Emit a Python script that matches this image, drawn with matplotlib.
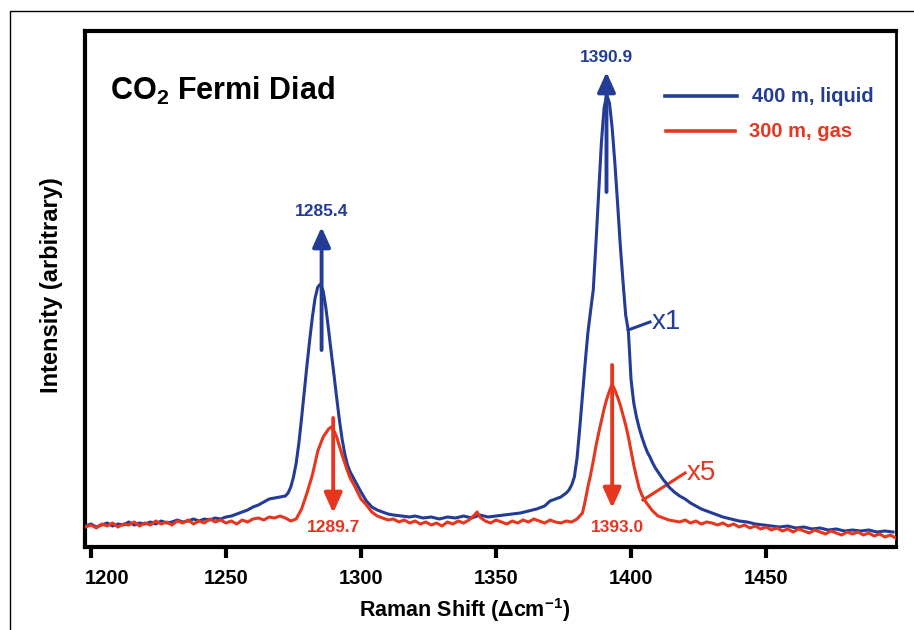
import matplotlib
matplotlib.use("Agg")
import matplotlib.pyplot as plt
from matplotlib.patches import Rectangle
from matplotlib.transforms import ScaledTranslation

plt.rcParams["font.family"] = ["Liberation Sans", "DejaVu Sans"]
plt.rcParams["font.weight"] = "bold"
plt.rcParams["mathtext.fontset"] = "custom"
plt.rcParams["mathtext.rm"] = "Liberation Sans:bold"
plt.rcParams["mathtext.bf"] = "Liberation Sans:bold"

BLUE = "#233c96"
RED = "#e6371e"

# 400 m, liquid (x1)
blue_x = [1198, 1200, 1202, 1204, 1206, 1208, 1210, 1212, 1214, 1216, 1218, 1220,
          1222, 1224, 1226, 1228, 1230, 1232, 1234, 1236, 1238, 1240, 1242, 1244,
          1246, 1248, 1250, 1252, 1254, 1256, 1258, 1260, 1262, 1264, 1266, 1268,
          1270, 1272, 1273, 1274, 1275, 1276, 1277, 1278, 1279, 1280, 1281, 1282,
          1283, 1284, 1285, 1286, 1287, 1288, 1289, 1290, 1291, 1292, 1293, 1294,
          1295, 1296, 1297, 1298, 1299, 1300, 1302, 1304, 1306, 1308, 1310, 1312,
          1315, 1318, 1320, 1323, 1326, 1329, 1332, 1335, 1338, 1341, 1344, 1347,
          1350, 1353, 1356, 1359, 1362, 1365, 1368, 1370, 1372, 1374, 1376, 1377,
          1378, 1379, 1380, 1381, 1382, 1383, 1384, 1385, 1386, 1387, 1388, 1389,
          1390, 1391, 1392, 1393, 1394, 1395, 1396, 1397, 1398, 1399, 1400, 1401,
          1402, 1403, 1404, 1405, 1406, 1407, 1408, 1409, 1410, 1411, 1412, 1413,
          1414, 1416, 1418, 1420, 1422, 1424, 1426, 1428, 1431, 1434, 1437, 1440,
          1443, 1446, 1449, 1452, 1455, 1458, 1461, 1464, 1467, 1470, 1473, 1476,
          1479, 1482, 1485, 1488, 1491, 1494, 1497]
blue_y = [17, 19, 16, 18, 20, 17, 19, 18, 21, 18, 20, 19,
          21, 19, 22, 20, 21, 23, 21, 22, 24, 22, 24, 23,
          25, 24, 26, 27, 29, 31, 33, 36, 38, 41, 44, 45,
          46, 47, 50, 56, 66, 80, 100, 125, 152, 178, 203, 226,
          245, 256, 259, 252, 235, 213, 190, 168, 145, 123, 104, 89,
          78, 71, 66, 61, 56, 51, 42, 36, 33, 31, 29, 28,
          27, 26, 27, 25, 26, 24, 26, 25, 27, 25, 28, 26,
          27, 28, 29, 30, 32, 34, 37, 42, 44, 46, 50, 53,
          58, 66, 85, 115, 148, 180, 210, 232, 253, 300, 350, 400,
          435, 448, 440, 415, 380, 340, 298, 262, 228, 212, 163, 140,
          126, 115, 106, 98, 91, 86, 80, 75, 71, 67, 63, 60,
          56, 51, 47, 44, 40, 37, 34, 32, 29, 26, 24, 22,
          21, 19, 18, 17, 16, 17, 15, 16, 14, 15, 13, 14,
          12, 13, 12, 13, 11, 12, 11]

# 300 m, gas (x5)
red_x = [1198, 1200, 1202, 1204, 1206, 1208, 1210, 1212, 1214, 1216, 1218, 1220,
         1222, 1224, 1226, 1228, 1230, 1232, 1234, 1236, 1238, 1240, 1242, 1244,
         1246, 1248, 1250, 1252, 1254, 1256, 1258, 1260, 1262, 1264, 1266, 1268,
         1270, 1272, 1274, 1276, 1278, 1280, 1282, 1284, 1286, 1288, 1289, 1290,
         1291, 1292, 1293, 1294, 1295, 1296, 1298, 1300, 1302, 1304, 1306, 1308,
         1310, 1312, 1314, 1316, 1318, 1320, 1322, 1324, 1326, 1328, 1330, 1332,
         1334, 1336, 1338, 1340, 1342, 1343, 1344, 1346, 1348, 1350, 1352, 1354,
         1356, 1358, 1360, 1362, 1364, 1366, 1368, 1370, 1372, 1374, 1376, 1378,
         1380, 1381, 1382, 1383, 1384, 1385, 1386, 1387, 1388, 1389, 1390, 1391,
         1392, 1393, 1394, 1395, 1396, 1397, 1398, 1399, 1400, 1401, 1402, 1403,
         1404, 1405, 1406, 1408, 1410, 1412, 1414, 1416, 1418, 1420, 1422, 1424,
         1426, 1428, 1430, 1432, 1434, 1436, 1438, 1440, 1442, 1444, 1446, 1448,
         1450, 1452, 1454, 1456, 1458, 1460, 1462, 1464, 1466, 1468, 1470, 1472,
         1474, 1476, 1478, 1480, 1482, 1484, 1486, 1488, 1490, 1492, 1494, 1496,
         1498]
red_y = [16, 18, 15, 19, 17, 20, 16, 19, 18, 21, 17, 20,
         18, 22, 19, 21, 18, 22, 20, 23, 19, 22, 20, 24,
         21, 23, 20, 22, 19, 23, 21, 24, 25, 23, 26, 25,
         27, 25, 22, 24, 34, 50, 68, 92, 106, 114, 116, 112,
         106, 97, 88, 80, 72, 65, 55, 44, 38, 31, 27, 25,
         23, 24, 21, 23, 20, 22, 19, 21, 18, 20, 17, 21,
         19, 22, 20, 23, 28, 31, 26, 22, 20, 23, 21, 19,
         22, 20, 23, 21, 24, 22, 20, 23, 21, 20, 22, 21,
         24, 27, 30, 42, 56, 68, 82, 97, 110, 122, 134, 144,
         152, 159, 153, 146, 138, 128, 118, 106, 92, 78, 66, 55,
         48, 43, 39, 32, 27, 25, 23, 22, 21, 23, 20, 22,
         19, 21, 20, 18, 20, 17, 19, 16, 18, 15, 17, 14,
         16, 13, 15, 12, 14, 11, 14, 12, 10, 13, 11, 9,
         12, 10, 8, 11, 9, 11, 8, 10, 7, 9, 6, 8,
         5]

# peak markers: position, arrow tail, arrow tip, label height
blue_peaks = [1285.4, 1390.9]
blue_tails = [193, 351]
blue_tips = [316, 471]
blue_label_y = [331, 485]

red_peaks = [1289.7, 1393.0]
red_tails = [125, 178]
red_tips = [30, 35]
red_label_x = [1290.0, 1394.8]
red_label_y = [15, 15]

fig = plt.figure(figsize=(9.14, 6.3), dpi=100)
ax = fig.add_axes([85 / 914, 83 / 630, 811 / 914, 516 / 630])

ax.plot(blue_x, blue_y, color=BLUE, lw=2.2, zorder=3)
ax.plot(red_x, red_y, color=RED, lw=2.2, zorder=4)

arrow_style = "-|>,head_length=0.6,head_width=0.27"
for x, y0, y1, ly in zip(blue_peaks, blue_tails, blue_tips, blue_label_y):
    ax.annotate("", xy=(x, y1), xytext=(x, y0),
                arrowprops=dict(arrowstyle=arrow_style, lw=2.8, color=BLUE,
                                mutation_scale=20, shrinkA=0, shrinkB=0),
                zorder=5)
    ax.text(x, ly, f"{x:.1f}", color=BLUE, fontsize=12.5, ha="center",
            va="center")

for x, y0, y1, lx, ly in zip(red_peaks, red_tails, red_tips, red_label_x,
                             red_label_y):
    ax.annotate("", xy=(x, y1), xytext=(x, y0),
                arrowprops=dict(arrowstyle=arrow_style, lw=2.8, color=RED,
                                mutation_scale=20, shrinkA=0, shrinkB=0),
                zorder=5)
    ax.text(lx, ly, f"{x:.1f}", color=RED, fontsize=12.5, ha="center",
            va="center")

# scale factor callouts
ax.plot([1398.9, 1407.0], [213, 221], color=BLUE, lw=2.2)
ax.text(1407.8, 221, "x1", color=BLUE, fontsize=20, fontweight="normal",
        ha="left", va="center")
ax.plot([1404.4, 1420.0], [43, 70], color=RED, lw=2.2)
ax.text(1420.5, 70, "x5", color=RED, fontsize=20, fontweight="normal",
        ha="left", va="center")

# legend drawn by hand
ax.plot([0.715, 0.804], [0.874, 0.874], color=BLUE, lw=2.6,
        transform=ax.transAxes)
ax.text(0.822, 0.874, "400 m, liquid", color=BLUE, fontsize=14.5,
        ha="left", va="center", transform=ax.transAxes)
ax.plot([0.717, 0.802], [0.806, 0.806], color=RED, lw=2.6,
        transform=ax.transAxes)
ax.text(0.819, 0.806, "300 m, gas", color=RED, fontsize=14.5,
        ha="left", va="center", transform=ax.transAxes)

ax.text(0.031, 0.866, r"CO$_{\mathbf{2}}$ Fermi Diad", fontsize=22,
        ha="left", va="baseline", transform=ax.transAxes)

ax.set_xlim(1197.8, 1498.1)
ax.set_ylim(-4, 512)
ax.set_xticks([1200, 1250, 1300, 1350, 1400, 1450])
ax.set_yticks([])
ax.tick_params(axis="x", direction="out", length=8, width=3, pad=8,
               labelsize=14.5)
first = ax.get_xticklabels()[0]
first.set_ha("left")
first.set_transform(first.get_transform()
                    + ScaledTranslation(-0.06, 0, fig.dpi_scale_trans))

for side in ["left", "bottom", "top"]:
    ax.spines[side].set_linewidth(3)
ax.spines["right"].set_linewidth(2)

fig.text(465 / 914, 1 - 610 / 630, r"Raman Shift ($\Delta$cm$^{\mathbf{-1}}$)",
         fontsize=15.5, ha="center", va="center")
fig.text(52 / 914, 1 - 285 / 630, "Intensity (arbitrary)", fontsize=17,
         rotation=90, ha="center", va="center")

fig.add_artist(Rectangle((9.5 / 914, -0.05), 1.2, (630 - 10.5) / 630 + 0.05,
                         transform=fig.transFigure, fill=False, lw=1.0,
                         edgecolor="black"))

fig.savefig("out.png", dpi=100)
